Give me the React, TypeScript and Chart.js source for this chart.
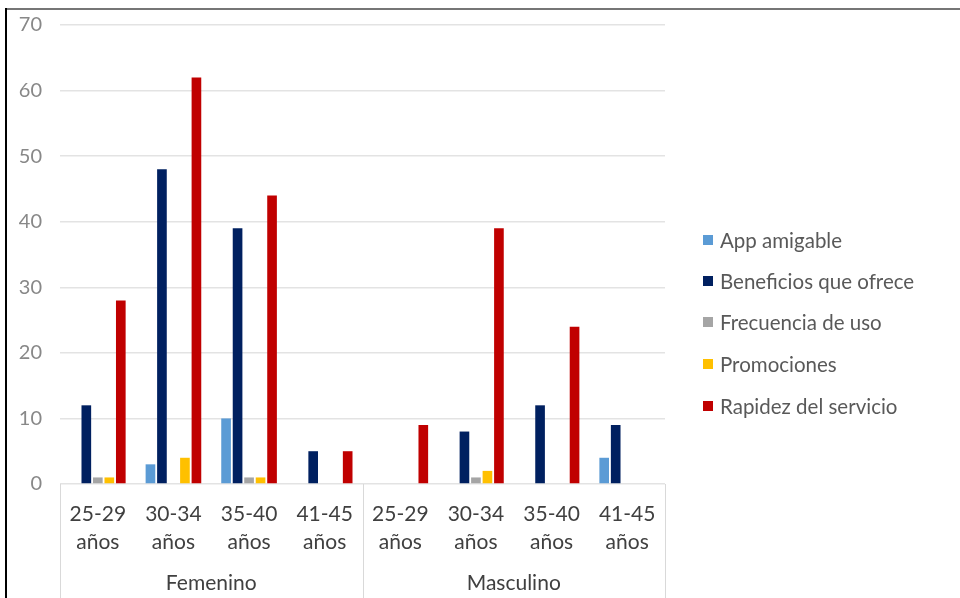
import React, { useEffect, useRef } from "react";
import { Chart, registerables } from "chart.js";

Chart.register(...registerables);

const ageLabels = ["25-29", "30-34", "35-40", "41-45", "25-29", "30-34", "35-40", "41-45"];
const groups = ["Femenino", "Masculino"];
const seriesNames = ["App amigable", "Beneficios que ofrece", "Frecuencia de uso", "Promociones", "Rapidez del servicio"];
const seriesColors = ["#5B9BD5", "#002060", "#A5A5A5", "#FFC000", "#C00000"];
const appAmigable = [0, 3, 10, 0, 0, 0, 0, 4];
const beneficios = [12, 48, 39, 5, 0, 8, 12, 9];
const frecuencia = [1, 0, 1, 0, 0, 1, 0, 0];
const promociones = [1, 4, 1, 0, 0, 2, 0, 0];
const rapidez = [28, 62, 44, 5, 9, 39, 24, 0];
const yTicks = [0, 10, 20, 30, 40, 50, 60, 70];

const FONT = "Lato, 'Open Sans', sans-serif";

export default function App() {
  const ref = useRef<HTMLCanvasElement>(null);
  useEffect(() => {
    if (!ref.current) return;
    const values = [appAmigable, beneficios, frecuencia, promociones, rapidez];
    const framePlugin = {
      id: "frame",
      afterDraw(chart: any) {
        const ctx = chart.ctx;
        const x = chart.scales.x;
        const area = chart.chartArea;
        ctx.save();
        // outer frame
        ctx.fillStyle = "#767676";
        ctx.fillRect(6, 8, 960, 2);
        ctx.fillStyle = "#000000";
        ctx.fillRect(5, 8, 2, 598);
        // category group box
        ctx.strokeStyle = "#d9d9d9";
        ctx.lineWidth = 1;
        const mid = (x.getPixelForValue(3) + x.getPixelForValue(4)) / 2;
        const bottom = chart.height;
        [area.left, mid, area.right].forEach((px: number) => {
          ctx.beginPath();
          ctx.moveTo(Math.round(px) + 0.5, area.bottom);
          ctx.lineTo(Math.round(px) + 0.5, bottom);
          ctx.stroke();
        });
        // group labels
        ctx.fillStyle = "#404040";
        ctx.font = "21px " + FONT;
        ctx.textAlign = "center";
        ctx.textBaseline = "middle";
        ctx.fillText(groups[0], (area.left + mid) / 2, 583);
        ctx.fillText(groups[1], (mid + area.right) / 2, 583);
        // legend
        ctx.textAlign = "left";
        ctx.font = "20.5px " + FONT;
        const ys = [240, 281, 322, 364, 406];
        seriesNames.forEach((name, i) => {
          ctx.fillStyle = seriesColors[i];
          ctx.fillRect(703, ys[i] - 5, 10, 10);
          ctx.fillStyle = "#595959";
          ctx.fillText(name, 720, ys[i] + 1);
        });
        ctx.restore();
      },
    };
    const chart = new Chart(ref.current, {
      type: "bar",
      data: {
        labels: ageLabels.map((a) => [a, "años"]),
        datasets: seriesNames.map((name, i) => ({
          label: name,
          data: values[i],
          backgroundColor: seriesColors[i],
          borderWidth: 0,
          categoryPercentage: 0.76,
          barPercentage: 0.84,
        })),
      },
      options: {
        responsive: false,
        animation: false,
        layout: { padding: { left: 0, right: 295, top: 25, bottom: 0 } },
        plugins: { legend: { display: false }, tooltip: { enabled: false } },
        scales: {
          x: {
            grid: { display: false },
            border: { display: false },
            ticks: {
              color: "#404040",
              font: { family: FONT, size: 21, lineHeight: 1.35 },
              padding: 8,
              maxRotation: 0,
              autoSkip: false,
            },
            afterFit(scale: any) {
              scale.height = 114;
            },
          },
          y: {
            min: 0,
            max: 70,
            afterBuildTicks(scale: any) {
              scale.ticks = yTicks.map((v) => ({ value: v }));
            },
            grid: { color: "#e3e3e3", lineWidth: 1.5, drawTicks: false },
            border: { display: false },
            ticks: {
              color: "#888888",
              font: { family: FONT, size: 20 },
              padding: 18,
            },
            afterFit(scale: any) {
              scale.width = 60;
              scale.paddingTop = 0;
              scale.paddingBottom = 0;
            },
          },
        },
      },
      plugins: [framePlugin],
    });
    return () => chart.destroy();
  }, []);
  return (
    <div style={{ position: "fixed", left: 0, top: 0, width: 960, height: 598, background: "#fff" }}>
      <canvas ref={ref} width={960} height={598} style={{ display: "block" }} />
    </div>
  );
}
